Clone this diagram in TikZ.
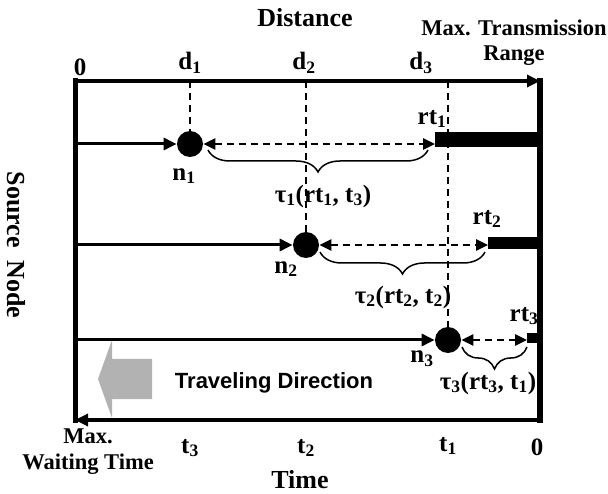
\documentclass[tikz,border=0pt]{standalone}
\usepackage{fontspec}
\setmainfont{Liberation Serif}
\newfontfamily\tdsans{Liberation Sans}
\usetikzlibrary{arrows.meta,decorations.pathreplacing,positioning,calc}
\tikzset{every picture/.style={line width=0.75pt}}
\tikzset{
  dot/.style={circle,fill=black,inner sep=0pt,minimum size=26pt},
  lbl/.style={font=\fontsize{25}{30}\selectfont\bfseries,inner sep=0pt},
  smalllbl/.style={font=\fontsize{22.5}{27}\selectfont\bfseries,inner sep=0pt,align=center},
  tip/.style={-{Triangle[length=13pt,width=12pt]}},
  twotip/.style={{Triangle[length=12pt,width=11pt]}-{Triangle[length=12pt,width=11pt]}},
  guide/.style={line width=2.7pt,dash pattern=on 7pt off 5pt},
  brc/.style={decorate,decoration={brace,mirror,amplitude=22pt},line width=1.5pt},
}

\begin{document}
\begin{tikzpicture}[x=1pt,y=-1pt]
    \useasboundingbox (0,0) rectangle (608,494);
    % 角点
    \coordinate (tl) at (75,81);
    \coordinate (tr) at (540,81);
    \coordinate (bl) at (75,420);
    \coordinate (br) at (540,420);

    % 行驶方向 (灰色箭头)
    \fill[black!30] (98,379) -- (112,340) -- (112,359) -- (152,359) -- (152,399)
        -- (112,399) -- (112,418) -- cycle;
    \node[font=\tdsans\fontsize{22}{26}\selectfont\bfseries,inner sep=0pt] (dir) at (274,383) {Traveling Direction};

    % 节点
    \node[dot] (n1) at (190,144) {};
    \node[dot] (n2) at (306,245) {};
    \node[dot] (n3) at (448,340) {};

    % 剩余时间段
    \fill (435,132) rectangle (540,147);
    \fill (488,237) rectangle (540,249);
    \fill (527,333) rectangle (540,343);
    \coordinate (r1) at (435,144);
    \coordinate (r2) at (488,245);
    \coordinate (r3) at (527,340);

    % 竖虚线
    \draw[guide] (n1 |- tl) -- (n1.north);
    \draw[guide] (n2 |- tl) -- (n2.north);
    \draw[guide] (n3 |- tl) -- (n3.north);

    % 坐标轴
    \draw[line width=4pt,tip] (tl) -- (tr);
    \draw[line width=4pt,tip] (br) -- (bl);
    \draw[line width=5pt,line cap=rect] (tl) -- (bl);
    \draw[line width=6pt,line cap=rect] (tr) -- (br);

    % 源节点到各节点
    \draw[line width=3pt,tip] (n1 -| tl) -- (n1.west);
    \draw[line width=3pt,tip] (n2 -| tl) -- (n2.west);
    \draw[line width=3pt,tip] (n3 -| tl) -- (n3.west);

    % 等待时间
    \draw[guide,twotip] (n1.east) -- (r1);
    \draw[guide,twotip] (n2.east) -- (r2);
    \draw[guide,twotip] (n3.east) -- (r3);
    \draw[brc] (208,150) -- (428,150);
    \draw[brc] (320,252) -- (485,252);
    \draw[brc] (462,347) -- (527,347);

    % 标注
    \node[lbl,font=\fontsize{26}{30}\selectfont\bfseries] (dist) at (305,18) {Distance};
    \node[smalllbl] (range) at (514,43) {Max. Transmission\\[-2pt]Range};
    \node[lbl] (zd) at (80,67) {0};
    \node[lbl] (d1) at (190,63) {d\textsubscript{1}};
    \node[lbl] (d2) at (304,63) {d\textsubscript{2}};
    \node[lbl] (d3) at (421,63) {d\textsubscript{3}};
    \node[lbl] (rt1) at (432,119) {rt\textsubscript{1}};
    \node[lbl] (rt2) at (487,219) {rt\textsubscript{2}};
    \node[lbl] (rt3) at (524,316) {rt\textsubscript{3}};
    \node[lbl] (n1l) at (184,176) {n\textsubscript{1}};
    \node[lbl] (n2l) at (286,269) {n\textsubscript{2}};
    \node[lbl] (n3l) at (422,359) {n\textsubscript{3}};
    \node[lbl] (tau1) at (323,196) {τ\textsubscript{1}(rt\textsubscript{1}, t\textsubscript{3})};
    \node[lbl] (tau2) at (403,297) {τ\textsubscript{2}(rt\textsubscript{2}, t\textsubscript{2})};
    \node[lbl] (tau3) at (488,383) {τ\textsubscript{3}(rt\textsubscript{3}, t\textsubscript{1})};
    \node[lbl,rotate=-90,font=\fontsize{26}{30}\selectfont\bfseries] (src) at (16,245) {Source\ \ Node};
    \node[smalllbl] (wait) at (88,452) {Max.\\[-1pt]Waiting Time};
    \node[lbl] (t3) at (190,448) {t\textsubscript{3}};
    \node[lbl] (t2) at (306,448) {t\textsubscript{2}};
    \node[lbl] (t1) at (448,446) {t\textsubscript{1}};
    \node[lbl] (zt) at (537,447) {0};
    \node[lbl,font=\fontsize{26}{30}\selectfont\bfseries] (time) at (300,480) {Time};
\end{tikzpicture}
\end{document}
